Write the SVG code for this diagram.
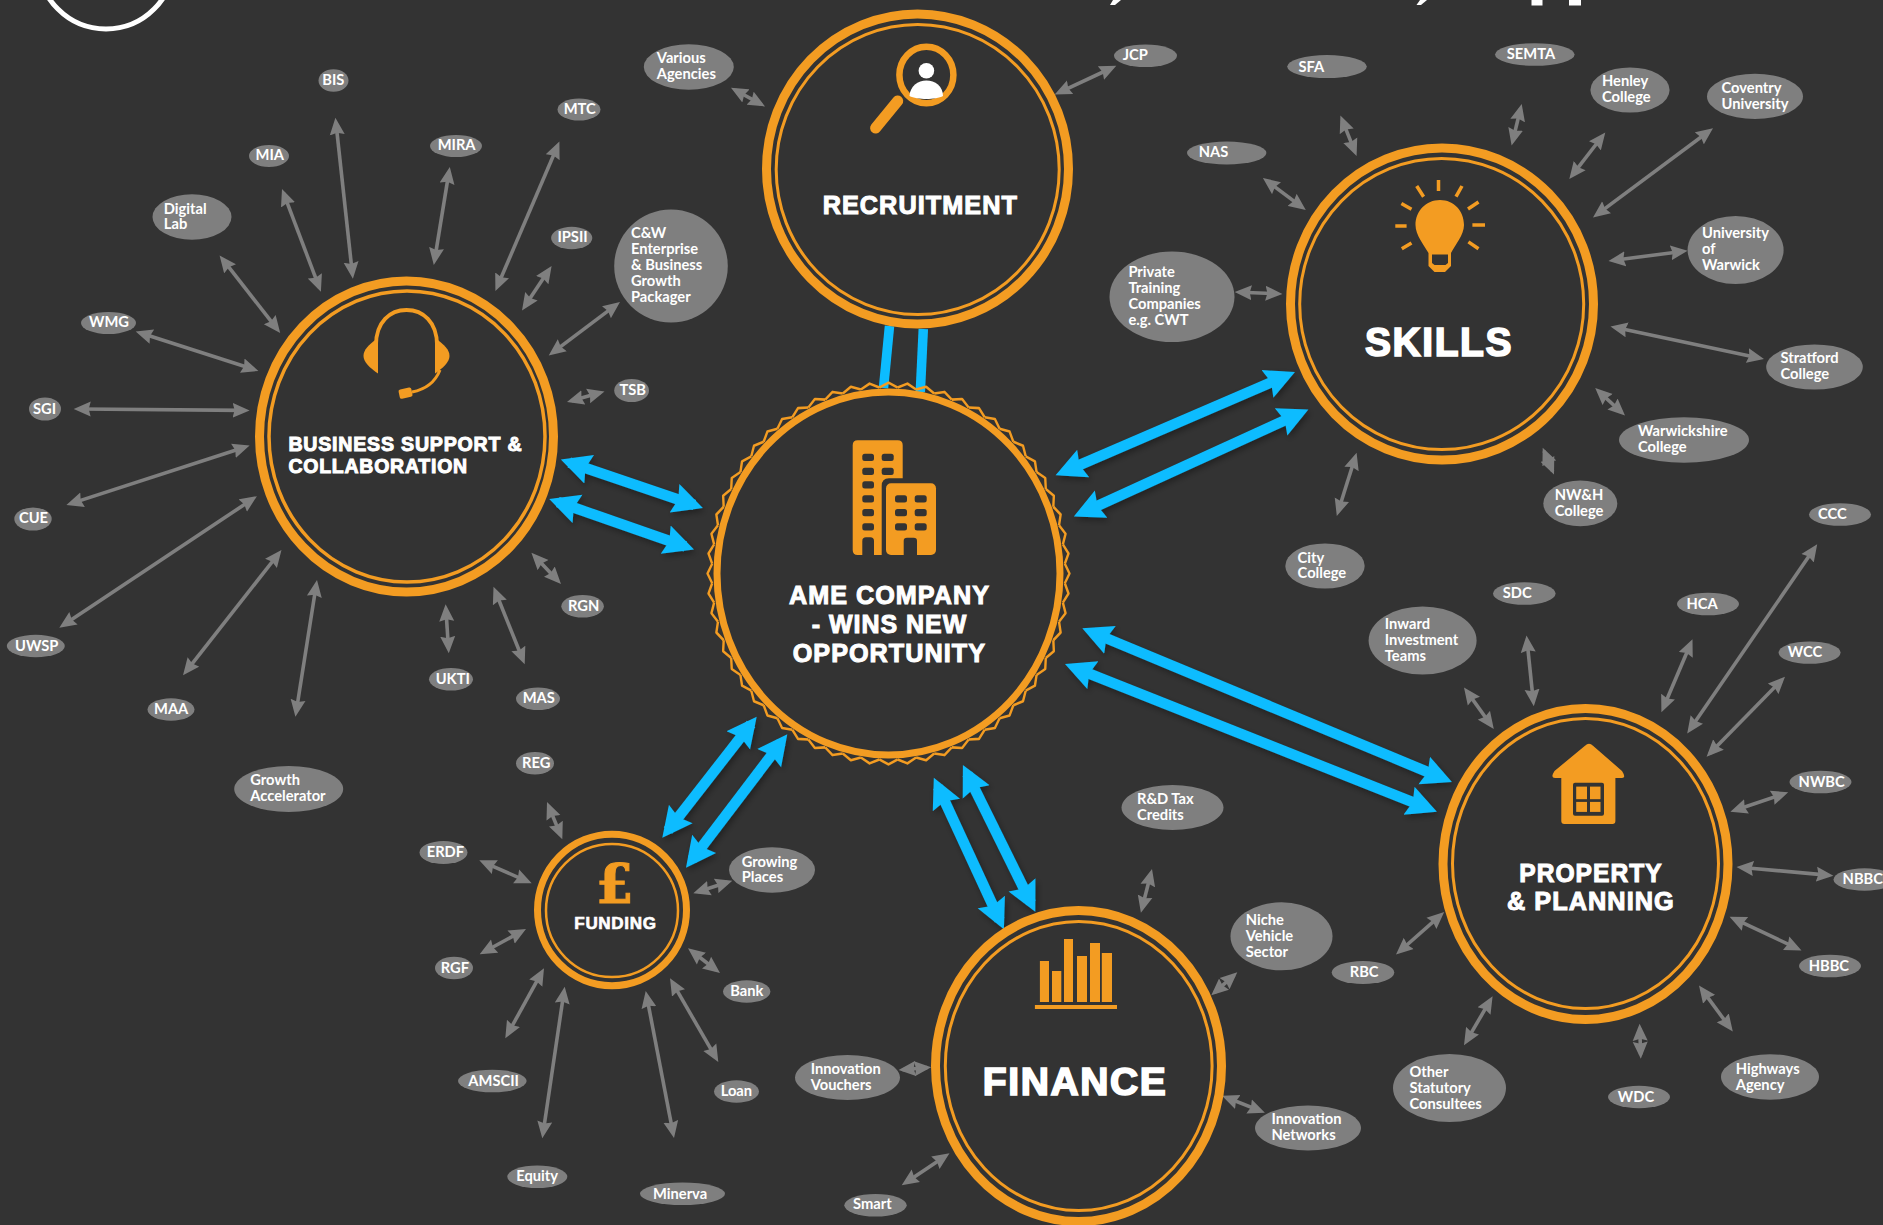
<svg xmlns="http://www.w3.org/2000/svg" width="1883" height="1225" viewBox="0 0 1883 1225">
<style>
.p{fill:#7f7f7f}
.t{font-family:"Lato","Liberation Sans",sans-serif;font-weight:700;font-size:14.7px;fill:#fff}
.h{font-family:"Liberation Sans",Arial,sans-serif;font-weight:700;fill:#fff;stroke:#fff;stroke-width:1px;letter-spacing:.04em}
.x{stroke-width:1.7px}
.r{fill:none;stroke:#f39c22}
.i{fill:#f39c22}
.d{fill:#333}
.ga path{fill:none;stroke:#7f7f7f;stroke-width:3.6;marker-start:url(#g);marker-end:url(#g)}
.a{stroke-dasharray:76 100;stroke-dashoffset:-12}
.b{stroke-dasharray:92 100;stroke-dashoffset:-4}
.ba path{fill:none;stroke:#0cbcff;stroke-width:10.5;marker-start:url(#bl);marker-end:url(#bl);stroke-dasharray:88 100;stroke-dashoffset:-6}
</style>
<defs>
<marker id="g" markerUnits="userSpaceOnUse" markerWidth="18" markerHeight="16" refX="17" refY="8" orient="auto-start-reverse"><path d="M0,0.5 L17,8 L0,15.5 L2,8 Z" fill="#7f7f7f"/></marker>
<marker id="bl" markerUnits="userSpaceOnUse" markerWidth="31" markerHeight="32" refX="30" refY="16" orient="auto-start-reverse"><path d="M0,1 L30,16 L0,31 L4,16 Z" fill="#0cbcff"/></marker>
<filter id="sh" x="-10%" y="-10%" width="120%" height="120%"><feDropShadow dx="2" dy="3" stdDeviation="3" flood-color="#000" flood-opacity=".35"/></filter>
<path id="z" d="M-9.24,-176.3 L0,-181 L9.24,-176.3" fill="none" stroke="#f39c22" stroke-width="2.4" stroke-linejoin="round"/>
<g id="z5"><use href="#z"/><use href="#z" transform="rotate(6)"/><use href="#z" transform="rotate(12)"/><use href="#z" transform="rotate(18)"/><use href="#z" transform="rotate(24)"/></g>
</defs>
<rect width="1883" height="1225" fill="#333"/>
<g id="decor" fill="#fff">
<circle cx="106" cy="-39" r="68" fill="none" stroke="#fff" stroke-width="5"/>
<path d="M1113,0 H1121 L1115,5 H1110 Z"/>
<path d="M1420,0 H1427 L1421,5 H1416.5 Z"/>
<rect x="1531.5" y="0" width="11" height="5.5"/>
<rect x="1569" y="0" width="12" height="5.5"/>
</g>
<g id="connectors">
<g class="ra"><path d="M889.5,326 L883.5,388" fill="none" stroke="#0cbcff" stroke-width="9.5"/><path d="M923.3,329 L920.3,392" fill="none" stroke="#0cbcff" stroke-width="9.5"/></g>
<g class="ba" filter="url(#sh)">
<path pathLength="100" d="M560.8,459.5 L702.9,508"/>
<path pathLength="100" d="M549.2,499 L694,549.6"/>
<path pathLength="100" d="M1295,372 L1055.6,475.3"/>
<path pathLength="100" d="M1308.4,409.5 L1073.8,516.6"/>
<path pathLength="100" d="M1082.3,628.3 L1451.9,782"/>
<path pathLength="100" d="M1065,664 L1436.9,811.8"/>
<path pathLength="100" d="M933.8,777.7 L1003.9,929.3"/>
<path pathLength="100" d="M962.9,765 L1035.3,911.7"/>
<path pathLength="100" d="M756.7,716.7 L662.3,837.7"/>
<path pathLength="100" d="M787.3,734.3 L686,867.7"/>
</g>
<g class="ga">
<path pathLength="100" class="b" d="M335.4,117.8 L352.9,278.8"/>
<path pathLength="100" class="b" d="M282,189 L320.9,291.8"/>
<path pathLength="100" class="a" d="M219.6,255.4 L280.2,333"/>
<path pathLength="100" class="b" d="M135.7,331.4 L258.4,370.9"/>
<path pathLength="100" class="b" d="M73.7,408.9 L249.6,410.4"/>
<path pathLength="100" class="b" d="M66.4,505 L249.6,445.6"/>
<path pathLength="100" class="b" d="M59.3,627.7 L256.9,496.2"/>
<path pathLength="100" class="b" d="M281.5,550 L183,675.3"/>
<path pathLength="100" class="b" d="M317,580 L295.4,716.7"/>
<path pathLength="100" class="a" d="M445.6,604.3 L448.8,653.3"/>
<path pathLength="100" class="a" d="M493.5,586.7 L524.7,664.3"/>
<path pathLength="100" class="a" d="M531.4,552.7 L561,584"/>
<path pathLength="100" class="a" d="M449.8,166.9 L433.8,264.9"/>
<path pathLength="100" class="b" d="M559.4,141.6 L495.4,291"/>
<path pathLength="100" class="a" d="M551.6,266 L522,310.4"/>
<path pathLength="100" class="a" d="M620,302 L548.7,355.5"/>
<path pathLength="100" class="a" d="M604.5,391.5 L567,402"/>
<path pathLength="100" class="a" d="M731,87.8 L765,106.4"/>
<path pathLength="100" class="a" d="M1116.3,65.8 L1054.7,94.5"/>
<path pathLength="100" class="a" d="M1262.9,178 L1305.8,210"/>
<path pathLength="100" class="a" d="M1340.4,115.6 L1356.6,156"/>
<path pathLength="100" class="a" d="M1521.7,104 L1511.6,145.4"/>
<path pathLength="100" class="a" d="M1605.3,132.4 L1569.3,179"/>
<path pathLength="100" class="b" d="M1713,128.2 L1593,217.4"/>
<path pathLength="100" class="a" d="M1687.6,250.7 L1608.5,261"/>
<path pathLength="100" class="b" d="M1764,359 L1610.5,326.4"/>
<path pathLength="100" class="a" d="M1595.2,388 L1625,415.6"/>
<path pathLength="100" class="a" d="M1542.7,447.8 L1554,474.5"/>
<path pathLength="100" class="a" d="M1356.6,452.7 L1336.8,515.9"/>
<path pathLength="100" class="a" d="M1234.7,292 L1282.4,293.9"/>
<path pathLength="100" class="a" d="M1464,687.4 L1493.8,729"/>
<path pathLength="100" class="a" d="M1526.5,635.4 L1533.8,706.2"/>
<path pathLength="100" class="a" d="M1692.5,639.2 L1661.4,712.3"/>
<path pathLength="100" class="b" d="M1817.2,544.2 L1687.2,733.4"/>
<path pathLength="100" class="b" d="M1785,676.7 L1706.6,756.7"/>
<path pathLength="100" class="a" d="M1788.2,792.3 L1730.4,811.8"/>
<path pathLength="100" class="a" d="M1833.4,875.7 L1736.5,866.9"/>
<path pathLength="100" class="a" d="M1729.6,916.7 L1801.5,950.4"/>
<path pathLength="100" class="a" d="M1699,985.6 L1732.8,1031.5"/>
<path pathLength="100" class="a" d="M1639.6,1023.8 L1640.8,1058.7"/>
<path pathLength="100" class="a" d="M1492.6,996.3 L1464,1045.3"/>
<path pathLength="100" class="a" d="M1444.2,912 L1396,954.6"/>
<path pathLength="100" class="a" d="M1152,869 L1140.9,912.7"/>
<path pathLength="100" class="a" d="M1237.3,972.3 L1211.3,995.3"/>
<path pathLength="100" class="a" d="M1222,1095.7 L1264.9,1112.7"/>
<path pathLength="100" class="a" d="M949.5,1153.3 L901.7,1185.3"/>
<path pathLength="100" class="a" d="M898.6,1070 L931.2,1067.3"/>
<path pathLength="100" class="a" d="M547,802 L562.3,839.3"/>
<path pathLength="100" class="a" d="M479.3,860.3 L531.7,883.3"/>
<path pathLength="100" class="a" d="M526,929 L479.7,954.3"/>
<path pathLength="100" class="a" d="M544,968.3 L505.3,1038.3"/>
<path pathLength="100" class="b" d="M564.7,986.7 L542.3,1138.3"/>
<path pathLength="100" class="b" d="M645.7,991 L674,1138"/>
<path pathLength="100" class="a" d="M670,978.3 L718.3,1062"/>
<path pathLength="100" class="a" d="M688,948.3 L720,973"/>
<path pathLength="100" class="a" d="M732.3,880.7 L693.3,893.3"/>
</g>
</g>

<g id="ame">
<ellipse class="r" cx="888.5" cy="573.5" rx="171.5" ry="181.5" stroke-width="7"/>
<g transform="translate(888.5,573.5) scale(1,1.055)">
<use href="#z5"/><use href="#z5" transform="rotate(30)"/><use href="#z5" transform="rotate(60)"/><use href="#z5" transform="rotate(90)"/><use href="#z5" transform="rotate(120)"/><use href="#z5" transform="rotate(150)"/><use href="#z5" transform="rotate(180)"/><use href="#z5" transform="rotate(210)"/><use href="#z5" transform="rotate(240)"/><use href="#z5" transform="rotate(270)"/><use href="#z5" transform="rotate(300)"/><use href="#z5" transform="rotate(330)"/>
</g>
<path class="i" d="M857.7,440.3 H897.7 Q902.7,440.3 902.7,445.3 V478.3 H889 Q881.7,478.3 881.7,486 V555 H857.7 Q852.7,555 852.7,550 V445.3 Q852.7,440.3 857.7,440.3 Z"/>
<rect class="i" x="886" y="483.3" width="50" height="71.7" rx="5"/>
<g class="d">
<rect x="862.3" y="453.7" width="11.7" height="7.3" rx="2.5"/><rect x="881.7" y="453.7" width="12" height="7.3" rx="2.5"/>
<rect x="862.3" y="467.7" width="11.7" height="7.3" rx="2.5"/><rect x="881.7" y="467.7" width="12" height="7.3" rx="2.5"/>
<rect x="862.3" y="481.3" width="11.7" height="7.3" rx="2.5"/><rect x="862.3" y="495.3" width="11.7" height="7.3" rx="2.5"/>
<rect x="862.3" y="509" width="11.7" height="7.3" rx="2.5"/><rect x="862.3" y="523.3" width="11.7" height="7.3" rx="2.5"/>
<path d="M862.3,555 V541 Q862.3,537.3 866,537.3 H870.3 Q874,537.3 874,541 V555 Z"/>
<rect x="895" y="495.3" width="12" height="7.3" rx="2.5"/><rect x="914.7" y="495.3" width="12" height="7.3" rx="2.5"/>
<rect x="895" y="509" width="12" height="7.3" rx="2.5"/><rect x="914.7" y="509" width="12" height="7.3" rx="2.5"/>
<rect x="895" y="523.3" width="12" height="7.3" rx="2.5"/><rect x="914.7" y="523.3" width="12" height="7.3" rx="2.5"/>
<path d="M903.7,555 V541 Q903.7,537.7 907,537.7 H913.7 Q917,537.7 917,541 V555 Z"/>
</g>
<text class="h" font-size="25" x="789" y="604.3" textLength="201" lengthAdjust="spacingAndGlyphs">AME COMPANY</text>
<text class="h" font-size="25" x="811.7" y="633.3" textLength="155.6" lengthAdjust="spacingAndGlyphs">- WINS NEW</text>
<text class="h" font-size="25" x="792.7" y="661.7" textLength="193.3" lengthAdjust="spacingAndGlyphs">OPPORTUNITY</text>
</g>

<g id="business">
<ellipse class="r" cx="406.5" cy="436.5" rx="147" ry="155.5" stroke-width="9"/>
<ellipse class="r" cx="407" cy="436.5" rx="138" ry="145.5" stroke-width="3.5"/>
<path d="M376,350 V345 C376,322 390,310 406.5,310 C423,310 437,322 437,345 V350" fill="none" stroke="#f39c22" stroke-width="3.8"/>
<path class="i" d="M378,338 C368,345 363.5,350 363.5,356 C363.5,362 370,368 378,373.5 Z"/>
<path class="i" d="M435,338 C445,345 449.5,350 449.5,356 C449.5,362 443,368 435,373.5 Z"/>
<path d="M440,370 C436,380 428,389 412,392" fill="none" stroke="#f39c22" stroke-width="3"/>
<rect class="i" x="399" y="388.5" width="13" height="9.5" rx="2" transform="rotate(-12 405 393)"/>
<text class="h" font-size="20" x="288.4" y="451" textLength="234" lengthAdjust="spacingAndGlyphs">BUSINESS SUPPORT &amp;</text>
<text class="h" font-size="20" x="288.4" y="472.5" textLength="179.5" lengthAdjust="spacingAndGlyphs">COLLABORATION</text>
</g>

<g id="recruitment">
<ellipse class="r" cx="917.5" cy="169" rx="151" ry="155" stroke-width="9"/>
<ellipse class="r" cx="917.7" cy="169.5" rx="141.5" ry="145" stroke-width="3"/>
<ellipse class="r" cx="926.4" cy="75" rx="27" ry="28.3" stroke-width="6.5"/>
<circle cx="926.4" cy="70.8" r="7.8" fill="#fff"/>
<path d="M909.5,96 C910,86 918,80.4 926.4,80.4 C935,80.4 943,86 943,96 C936,100 917,100 909.5,96 Z" fill="#fff"/>
<path d="M897.7,101 L875.6,128" fill="none" stroke="#f39c22" stroke-width="11" stroke-linecap="round"/>
<text class="h" font-size="25" x="822.7" y="214" textLength="195.2" lengthAdjust="spacingAndGlyphs">RECRUITMENT</text>
</g>

<g id="skills">
<ellipse class="r" cx="1442" cy="304" rx="151.5" ry="156" stroke-width="9"/>
<ellipse class="r" cx="1441.7" cy="304" rx="142" ry="145.5" stroke-width="3"/>
<path class="i" d="M1440,200 C1454,200 1464,211 1464,225 C1464,235 1455,245 1451,253 H1428.5 C1424,245 1415.5,235 1415.5,225 C1415.5,211 1426,200 1440,200 Z"/>
<path class="i" d="M1428.5,253 H1451 V266 L1445,272 H1434.5 L1428.5,266 Z"/>
<path class="d" d="M1432,254.5 H1448 V263 L1445.5,265 H1434.5 L1432,263 Z"/>
<path d="M1438.5,180V191M1416.7,186L1423.6,196.7M1462,186L1456,196.7M1401.4,203.6L1411.5,209.3M1478.5,202L1468,209M1395.3,226H1406.6M1472.4,225H1485M1401.8,248.8L1411.5,243M1468.4,241.9L1478.5,248.8" fill="none" stroke="#f39c22" stroke-width="3.5"/>
<text class="h x" font-size="40" x="1365" y="355.5" textLength="148" lengthAdjust="spacingAndGlyphs">SKILLS</text>
</g>

<g id="property">
<ellipse class="r" cx="1585.5" cy="864" rx="142.5" ry="155.5" stroke-width="9"/>
<ellipse class="r" cx="1585.5" cy="863.5" rx="133" ry="145" stroke-width="3"/>
<path class="i" d="M1589,743.7 Q1591,743.7 1593,745.7 L1622,771 Q1626.5,778 1622,778 H1615.4 V821 Q1615.4,824 1612.4,824 H1564.3 Q1561.3,824 1561.3,821 V778 H1555 Q1550,778 1554.5,771 L1585,745.7 Q1587,743.7 1589,743.7 Z"/>
<rect class="d" x="1573" y="782.7" width="31" height="33" rx="2"/>
<g class="i"><rect x="1576.2" y="786.6" width="10.8" height="12.6"/><rect x="1590" y="786.6" width="10.5" height="12.6"/><rect x="1576.2" y="801.9" width="10.8" height="10"/><rect x="1590" y="801.9" width="10.5" height="10"/></g>
<text class="h" font-size="25" x="1519.3" y="881.5" textLength="143.3" lengthAdjust="spacingAndGlyphs">PROPERTY</text>
<text class="h" font-size="25" x="1507" y="910" textLength="167.7" lengthAdjust="spacingAndGlyphs">&amp; PLANNING</text>
</g>

<g id="finance">
<ellipse class="r" cx="1078.5" cy="1066" rx="143" ry="155.5" stroke-width="9"/>
<ellipse class="r" cx="1078.7" cy="1066" rx="133.4" ry="144.5" stroke-width="3"/>
<g class="i">
<rect x="1039.9" y="961" width="9.1" height="41"/><rect x="1052" y="971" width="9.3" height="31"/><rect x="1064" y="939" width="9" height="63"/><rect x="1077" y="956" width="10" height="46"/><rect x="1090" y="943" width="10" height="59"/><rect x="1101.8" y="953" width="10.2" height="49"/><rect x="1034.9" y="1005" width="82.1" height="4"/>
</g>
<text class="h x" font-size="38" x="982.8" y="1095" textLength="184.5" lengthAdjust="spacingAndGlyphs">FINANCE</text>
</g>

<g id="funding">
<ellipse class="r" cx="612" cy="910" rx="74.5" ry="75.7" stroke-width="7"/>
<ellipse class="r" cx="612" cy="910.5" rx="66" ry="66.5" stroke-width="2.5"/>
<text x="614.7" y="902.7" font-family="'DejaVu Serif',serif" font-weight="700" font-size="54" text-anchor="middle" fill="#f39c22" stroke="#f39c22" stroke-width="1">£</text>
<text class="h" font-size="16" style="stroke-width:.6px" x="574.3" y="929" textLength="82.4" lengthAdjust="spacingAndGlyphs">FUNDING</text>
</g>

<g id="n-various"><ellipse class="p" cx="688.8" cy="67" rx="45" ry="22.7"/><text class="t"><tspan x="656.8" y="63.3">Various</tspan><tspan x="656.8" y="79">Agencies</tspan></text></g>
<g id="n-bis"><ellipse class="p" cx="333.5" cy="80.5" rx="15" ry="11.3"/><text class="t" x="322.3" y="85">BIS</text></g>
<g id="n-mia"><ellipse class="p" cx="269" cy="156" rx="20" ry="11"/><text class="t" x="255.5" y="160">MIA</text></g>
<g id="n-mtc"><ellipse class="p" cx="579" cy="109.5" rx="21.5" ry="11"/><text class="t" x="563.7" y="114">MTC</text></g>
<g id="n-mira"><ellipse class="p" cx="456" cy="146" rx="26" ry="11"/><text class="t" x="437.7" y="150">MIRA</text></g>
<g id="n-digital"><ellipse class="p" cx="192" cy="217" rx="39.5" ry="22.8"/><text class="t"><tspan x="163.8" y="213.5">Digital</tspan><tspan x="163.8" y="229.3">Lab</tspan></text></g>
<g id="n-ipsii"><ellipse class="p" cx="571.7" cy="238" rx="20.6" ry="11.2"/><text class="t" x="557.4" y="242">IPSII</text></g>
<g id="n-cw"><ellipse class="p" cx="671" cy="266" rx="56.8" ry="56.5"/><text class="t"><tspan x="631" y="238.4">C&amp;W</tspan><tspan x="631" y="254.3">Enterprise</tspan><tspan x="631" y="270">&amp; Business</tspan><tspan x="631" y="286">Growth</tspan><tspan x="631" y="301.7">Packager</tspan></text></g>
<g id="n-wmg"><ellipse class="p" cx="108.5" cy="323" rx="27.5" ry="11"/><text class="t" x="89" y="327.4">WMG</text></g>
<g id="n-sgi"><ellipse class="p" cx="45" cy="409" rx="16" ry="11.6"/><text class="t" x="33" y="413.6">SGI</text></g>
<g id="n-tsb"><ellipse class="p" cx="631.6" cy="390.5" rx="17.4" ry="11.6"/><text class="t" x="619.5" y="395.4">TSB</text></g>
<g id="n-cue"><ellipse class="p" cx="33" cy="519" rx="18.7" ry="11.6"/><text class="t" x="19" y="523">CUE</text></g>
<g id="n-rgn"><ellipse class="p" cx="582.6" cy="606.3" rx="21.3" ry="11.3"/><text class="t" x="568" y="611">RGN</text></g>
<g id="n-uwsp"><ellipse class="p" cx="35.8" cy="646" rx="29" ry="11.2"/><text class="t" x="15" y="651">UWSP</text></g>
<g id="n-maa"><ellipse class="p" cx="171" cy="709.5" rx="23.5" ry="11.2"/><text class="t" x="154" y="714.3">MAA</text></g>
<g id="n-ukti"><ellipse class="p" cx="451" cy="679.3" rx="22" ry="11.3"/><text class="t" x="435.7" y="684.3">UKTI</text></g>
<g id="n-mas"><ellipse class="p" cx="538" cy="698.7" rx="22" ry="11.3"/><text class="t" x="522.7" y="703.3">MAS</text></g>
<g id="n-reg"><ellipse class="p" cx="535" cy="763.3" rx="19" ry="11.3"/><text class="t" x="522" y="768.3">REG</text></g>
<g id="n-growth"><ellipse class="p" cx="288.7" cy="789" rx="54.5" ry="23"/><text class="t"><tspan x="250.3" y="785">Growth</tspan><tspan x="250.3" y="801">Accelerator</tspan></text></g>
<g id="n-erdf"><ellipse class="p" cx="443.5" cy="852.5" rx="24" ry="11.5"/><text class="t" x="426.7" y="857">ERDF</text></g>
<g id="n-rgf"><ellipse class="p" cx="454" cy="968" rx="19" ry="11.3"/><text class="t" x="440.7" y="973.3">RGF</text></g>
<g id="n-growing"><ellipse class="p" cx="772" cy="870" rx="43" ry="22.7"/><text class="t"><tspan x="741.7" y="866.7">Growing</tspan><tspan x="741.7" y="882.3">Places</tspan></text></g>
<g id="n-bank"><ellipse class="p" cx="746.7" cy="991.5" rx="23.7" ry="11.2"/><text class="t" x="730.3" y="996">Bank</text></g>
<g id="n-loan"><ellipse class="p" cx="736.5" cy="1091.5" rx="22.5" ry="11.2"/><text class="t" x="720.7" y="1096.3">Loan</text></g>
<g id="n-amscii"><ellipse class="p" cx="492.3" cy="1081" rx="34.3" ry="11.3"/><text class="t" x="468.3" y="1086">AMSCII</text></g>
<g id="n-equity"><ellipse class="p" cx="537.3" cy="1176.7" rx="30" ry="11.3"/><text class="t" x="516.3" y="1181">Equity</text></g>
<g id="n-minerva"><ellipse class="p" cx="682.5" cy="1193.7" rx="42.5" ry="11.3"/><text class="t" x="653" y="1198.7">Minerva</text></g>
<g id="n-vouchers"><ellipse class="p" cx="847.5" cy="1077.5" rx="52.5" ry="22.5"/><text class="t"><tspan x="810.7" y="1074.3">Innovation</tspan><tspan x="810.7" y="1090">Vouchers</tspan></text></g>
<g id="n-smart"><ellipse class="p" cx="875.5" cy="1205.3" rx="31.2" ry="11.3"/><text class="t" x="853" y="1209.3">Smart</text></g>
<g id="n-rd"><ellipse class="p" cx="1172.5" cy="807.5" rx="51" ry="22.5"/><text class="t"><tspan x="1137" y="804.3">R&amp;D Tax</tspan><tspan x="1137" y="820">Credits</tspan></text></g>
<g id="n-niche"><ellipse class="p" cx="1281.5" cy="936.3" rx="51" ry="34"/><text class="t"><tspan x="1245.7" y="925">Niche</tspan><tspan x="1245.7" y="941">Vehicle</tspan><tspan x="1245.7" y="957">Sector</tspan></text></g>
<g id="n-networks"><ellipse class="p" cx="1308" cy="1128" rx="53" ry="22.5"/><text class="t"><tspan x="1271.4" y="1124.3">Innovation</tspan><tspan x="1271.4" y="1140">Networks</tspan></text></g>
<g id="n-rbc"><ellipse class="p" cx="1363" cy="972.5" rx="31.3" ry="11.5"/><text class="t" x="1349.7" y="977">RBC</text></g>
<g id="n-sdc"><ellipse class="p" cx="1524.3" cy="593.5" rx="31.3" ry="11.3"/><text class="t" x="1502.7" y="598.3">SDC</text></g>
<g id="n-inward"><ellipse class="p" cx="1422.6" cy="640.5" rx="54" ry="34"/><text class="t"><tspan x="1384.8" y="629">Inward</tspan><tspan x="1384.8" y="645">Investment</tspan><tspan x="1384.8" y="661">Teams</tspan></text></g>
<g id="n-hca"><ellipse class="p" cx="1708" cy="604" rx="31" ry="11.3"/><text class="t" x="1686.4" y="608.6">HCA</text></g>
<g id="n-wcc"><ellipse class="p" cx="1809.6" cy="652.6" rx="31" ry="11.2"/><text class="t" x="1787.8" y="657.2">WCC</text></g>
<g id="n-nwbc"><ellipse class="p" cx="1820.5" cy="782" rx="31" ry="11.3"/><text class="t" x="1798.6" y="787">NWBC</text></g>
<g id="n-nbbc"><ellipse class="p" cx="1864.5" cy="879.5" rx="31" ry="11.2"/><text class="t" x="1842.6" y="884">NBBC</text></g>
<g id="n-hbbc"><ellipse class="p" cx="1830" cy="966" rx="31" ry="11.3"/><text class="t" x="1808.7" y="971">HBBC</text></g>
<g id="n-highways"><ellipse class="p" cx="1770" cy="1077" rx="49" ry="22.8"/><text class="t"><tspan x="1735.7" y="1073.6">Highways</tspan><tspan x="1735.7" y="1089.7">Agency</tspan></text></g>
<g id="n-wdc"><ellipse class="p" cx="1639" cy="1097" rx="31" ry="11.2"/><text class="t" x="1617.8" y="1102">WDC</text></g>
<g id="n-other"><ellipse class="p" cx="1449.5" cy="1088" rx="56.5" ry="34"/><text class="t"><tspan x="1409.5" y="1076.6">Other</tspan><tspan x="1409.5" y="1092.7">Statutory</tspan><tspan x="1409.5" y="1108.8">Consultees</tspan></text></g>
<g id="n-ccc"><ellipse class="p" cx="1840" cy="514.5" rx="31" ry="11.3"/><text class="t" x="1818" y="519">CCC</text></g>
<g id="n-sfa"><ellipse class="p" cx="1327" cy="66.6" rx="39.8" ry="11.5"/><text class="t" x="1298.4" y="71.6">SFA</text></g>
<g id="n-semta"><ellipse class="p" cx="1534.8" cy="54.5" rx="39.8" ry="11.3"/><text class="t" x="1506.8" y="59.3">SEMTA</text></g>
<g id="n-henley"><ellipse class="p" cx="1630" cy="90" rx="39.6" ry="22.6"/><text class="t"><tspan x="1602" y="86">Henley</tspan><tspan x="1602" y="102">College</tspan></text></g>
<g id="n-coventry"><ellipse class="p" cx="1755" cy="96.4" rx="48" ry="22.6"/><text class="t"><tspan x="1721.5" y="93">Coventry</tspan><tspan x="1721.5" y="109">University</tspan></text></g>
<g id="n-warwick"><ellipse class="p" cx="1735.6" cy="250" rx="48" ry="34"/><text class="t"><tspan x="1702" y="238">University</tspan><tspan x="1702" y="254">of</tspan><tspan x="1702" y="270">Warwick</tspan></text></g>
<g id="n-stratford"><ellipse class="p" cx="1814.5" cy="367" rx="48.3" ry="22.6"/><text class="t"><tspan x="1780.5" y="362.8">Stratford</tspan><tspan x="1780.5" y="378.9">College</tspan></text></g>
<g id="n-warwickshire"><ellipse class="p" cx="1684" cy="440" rx="65" ry="22.8"/><text class="t"><tspan x="1638" y="435.9">Warwickshire</tspan><tspan x="1638" y="452">College</tspan></text></g>
<g id="n-nwh"><ellipse class="p" cx="1580.3" cy="503.4" rx="37" ry="22.8"/><text class="t"><tspan x="1554.8" y="499.8">NW&amp;H</tspan><tspan x="1554.8" y="515.9">College</tspan></text></g>
<g id="n-city"><ellipse class="p" cx="1325" cy="566" rx="39.7" ry="22.6"/><text class="t"><tspan x="1297.6" y="562.6">City</tspan><tspan x="1297.6" y="578">College</tspan></text></g>
<g id="n-nas"><ellipse class="p" cx="1226.7" cy="153" rx="39.7" ry="11.5"/><text class="t" x="1198.7" y="157">NAS</text></g>
<g id="n-jcp"><ellipse class="p" cx="1145.5" cy="55.7" rx="31.5" ry="11.3"/><text class="t" x="1122.8" y="60">JCP</text></g>
<g id="n-private"><ellipse class="p" cx="1172" cy="296.8" rx="62.5" ry="45.3"/><text class="t"><tspan x="1128.4" y="277">Private</tspan><tspan x="1128.4" y="293">Training</tspan><tspan x="1128.4" y="309">Companies</tspan><tspan x="1128.4" y="325">e.g. CWT</tspan></text></g>
</svg>
